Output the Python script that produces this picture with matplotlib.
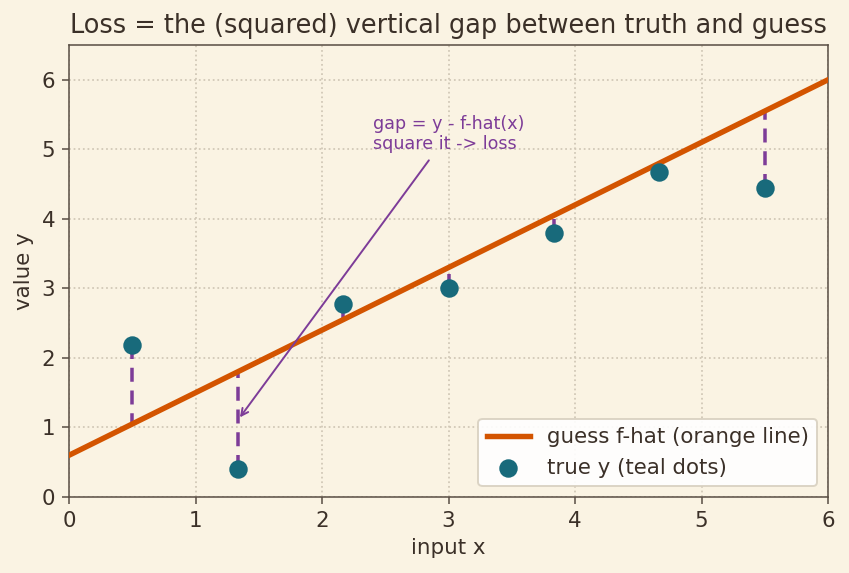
import matplotlib
matplotlib.use("Agg")
import matplotlib.pyplot as plt
import numpy as np

# data
x_true = [0.5, 1.333, 2.167, 3.0, 3.833, 4.667, 5.5]
y_true = [2.18, 0.40, 2.78, 3.0, 3.80, 4.68, 4.45]
intercept = 0.6
slope = 0.9
line_x = [0, 6]

bg = '#faf3e3'
ink = '#3b3028'
orange = '#d35400'
teal = '#186a7b'
purple = '#7d3c98'

plt.rcParams['font.family'] = 'DejaVu Sans'
plt.rcParams['font.size'] = 11
plt.rcParams['text.color'] = ink
plt.rcParams['axes.labelcolor'] = ink
plt.rcParams['xtick.color'] = ink
plt.rcParams['ytick.color'] = ink

fig, ax = plt.subplots(figsize=(849 / 140, 573 / 140), dpi=140)
fig.patch.set_facecolor(bg)
ax.set_facecolor(bg)
fig.subplots_adjust(left=69 / 849, right=828 / 849, top=1 - 45 / 573, bottom=1 - 497 / 573)

y_hat = [intercept + slope * v for v in x_true]

# vertical gaps
for xi, yt, yh in zip(x_true, y_true, y_hat):
    ax.plot([xi, xi], [yt, yh], color=purple, lw=1.8, ls=(0, (4, 2.5)), zorder=2)

lx = np.array(line_x)
ax.plot(lx, intercept + slope * lx, color=orange, lw=2.8, label='guess f-hat (orange line)', zorder=3)
ax.scatter(x_true, y_true, s=72, color=teal, label='true y (teal dots)', zorder=4)

ax.annotate('gap = y - f-hat(x)\nsquare it -> loss', xy=(1.333, 1.1), xytext=(2.4, 5.0),
            color=purple, fontsize=9,
            arrowprops=dict(arrowstyle='->', color=purple, lw=1.0))

ax.set_xlim(0, 6)
ax.set_ylim(0, 6.5)
ax.set_xticks(range(0, 7))
ax.set_yticks(range(0, 7))
ax.grid(True, ls=':', color='#d0c7b6', lw=0.9)
ax.set_axisbelow(True)
for s in ax.spines.values():
    s.set_color('#5a4f45')
ax.tick_params(colors='#5a4f45', labelcolor=ink)

ax.set_xlabel('input x')
ax.set_ylabel('value y')
ax.set_title('Loss = the (squared) vertical gap between truth and guess', fontsize=13.2)
ax.legend(loc='lower right', facecolor='white', edgecolor='#d8d0c0', framealpha=0.9)

fig.savefig('out.png', dpi=140, facecolor=bg)
